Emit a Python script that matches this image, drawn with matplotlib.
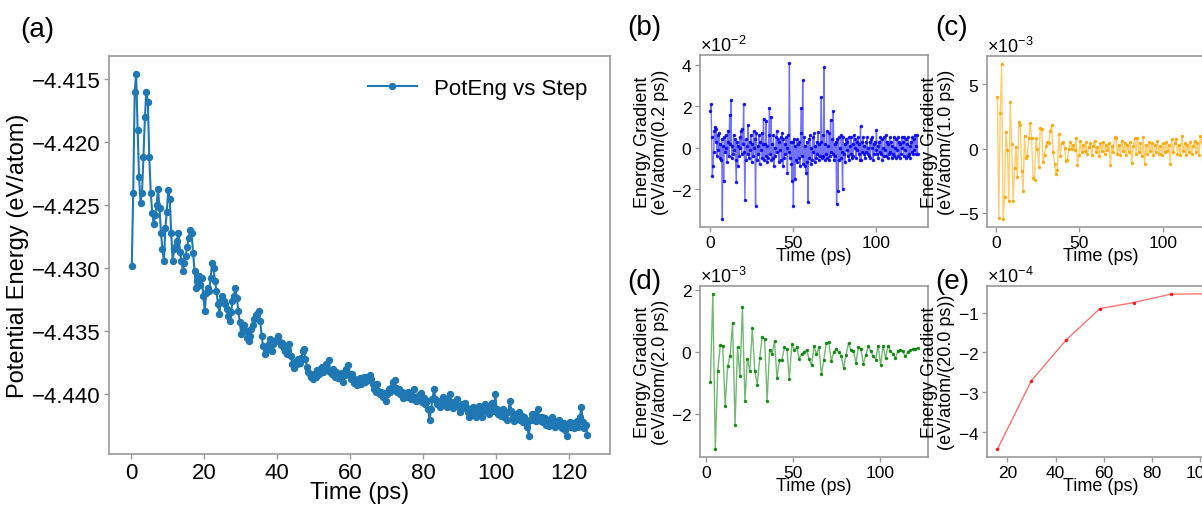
import numpy as np
import matplotlib
matplotlib.use("Agg")
import matplotlib.pyplot as plt
from matplotlib.ticker import MultipleLocator, ScalarFormatter

plt.rcParams['font.family'] = ['Liberation Sans', 'DejaVu Sans']
plt.rcParams['mathtext.fontset'] = 'custom'
plt.rcParams['mathtext.rm'] = 'Liberation Sans'
plt.rcParams['mathtext.it'] = 'Liberation Sans:italic'
plt.rcParams['mathtext.bf'] = 'Liberation Sans:bold'

# ---------------- data ----------------
# (a) potential energy, sampled every 0.4 ps from 0.2 ps to 125 ps
time_a = np.arange(0.2, 125.01, 0.4)
pot_energy = [
-4.4298, -4.4240, -4.4160, -4.4146, -4.4190, -4.4228, -4.4248, -4.4240, -4.4212, -4.4180,
-4.4160, -4.4168, -4.4212, -4.4240, -4.4256, -4.4265, -4.4258, -4.4250, -4.4237, -4.4252,
-4.4272, -4.4285, -4.4294, -4.4268, -4.4255, -4.4238, -4.4245, -4.4272, -4.4294, -4.4285,
-4.4282, -4.4278, -4.4272, -4.4287, -4.4294, -4.4302, -4.4296, -4.4290, -4.4283, -4.4276,
-4.4270, -4.4272, -4.4288, -4.4302, -4.4316, -4.4310, -4.4306, -4.4313, -4.4308, -4.4322,
-4.4334, -4.4320, -4.4316, -4.4318, -4.4308, -4.4296, -4.4300, -4.4310, -4.4318, -4.4328,
-4.4336, -4.4326, -4.4322, -4.4326, -4.4328, -4.4332, -4.4338, -4.4342, -4.4335, -4.4326,
-4.4322, -4.4316, -4.4324, -4.4334, -4.4343, -4.4352, -4.4346, -4.4345, -4.4350, -4.4355,
-4.4358, -4.4354, -4.4348, -4.4345, -4.4340, -4.4337, -4.4336, -4.4334, -4.4342, -4.4354,
-4.4362, -4.4368, -4.4366, -4.4362, -4.4360, -4.4356, -4.4366, -4.4360, -4.4358, -4.4357,
-4.4354, -4.4358, -4.4361, -4.4359, -4.4363, -4.4366, -4.4368, -4.4365, -4.4360, -4.4370,
-4.4376, -4.4379, -4.4374, -4.4376, -4.4372, -4.4375, -4.4371, -4.4366, -4.4364, -4.4372,
-4.4378, -4.4382, -4.4384, -4.4386, -4.4388, -4.4384, -4.4386, -4.4381, -4.4384, -4.4380,
-4.4378, -4.4382, -4.4379, -4.4376, -4.4380, -4.4373, -4.4382, -4.4384, -4.4380, -4.4386,
-4.4382, -4.4387, -4.4384, -4.4388, -4.4383, -4.4390, -4.4385, -4.4380, -4.4377, -4.4384,
-4.4388, -4.4384, -4.4391, -4.4388, -4.4393, -4.4390, -4.4387, -4.4392, -4.4389, -4.4386,
-4.4390, -4.4386, -4.4389, -4.4385, -4.4388, -4.4392, -4.4396, -4.4398, -4.4392, -4.4397,
-4.4400, -4.4398, -4.4402, -4.4399, -4.4405, -4.4400, -4.4396, -4.4398, -4.4394, -4.4390,
-4.4389, -4.4395, -4.4398, -4.4396, -4.4400, -4.4398, -4.4403, -4.4399, -4.4402, -4.4398,
-4.4400, -4.4404, -4.4401, -4.4396, -4.4402, -4.4405, -4.4401, -4.4404, -4.4399, -4.4406,
-4.4403, -4.4408, -4.4405, -4.4412, -4.4420, -4.4412, -4.4404, -4.4396, -4.4404, -4.4408,
-4.4405, -4.4410, -4.4406, -4.4402, -4.4408, -4.4404, -4.4410, -4.4407, -4.4400, -4.4406,
-4.4411, -4.4406, -4.4409, -4.4404, -4.4410, -4.4414, -4.4408, -4.4411, -4.4407, -4.4410,
-4.4414, -4.4418, -4.4412, -4.4416, -4.4410, -4.4415, -4.4418, -4.4413, -4.4409, -4.4414,
-4.4418, -4.4412, -4.4408, -4.4414, -4.4411, -4.4416, -4.4412, -4.4407, -4.4413, -4.4400,
-4.4412, -4.4416, -4.4413, -4.4417, -4.4412, -4.4418, -4.4415, -4.4420, -4.4414, -4.4405,
-4.4413, -4.4418, -4.4421, -4.4416, -4.4419, -4.4414, -4.4420, -4.4417, -4.4422, -4.4418,
-4.4421, -4.4426, -4.4433, -4.4420, -4.4416, -4.4420, -4.4416, -4.4421, -4.4412, -4.4418,
-4.4421, -4.4418, -4.4422, -4.4419, -4.4424, -4.4420, -4.4425, -4.4421, -4.4418, -4.4423,
-4.4426, -4.4421, -4.4424, -4.4420, -4.4425, -4.4427, -4.4423, -4.4428, -4.4433, -4.4426,
-4.4422, -4.4426, -4.4423, -4.4427, -4.4424, -4.4421, -4.4426, -4.4418, -4.4410, -4.4422,
-4.4427, -4.4424, -4.4432]

# (b) gradient over 0.2 ps, in units of 1e-2
time_b = np.arange(0.2, 125.01, 0.4)
grad_b = [
1.75, 2.1, 0.5, -1.35, -0.9, -0.2, 0.8, 1.0, 0.3, 0.9,
-0.4, 0.6, -0.1, 0.7, -0.5, 0.2, -0.6, 0.4, -3.45, 0.1,
-1.6, 0.5, -0.2, 0.6, 0.0, -0.7, 0.3, 0.8, -0.4, 1.6,
0.2, 2.3, -0.5, 0.1, -0.3, 0.6, -0.1, 0.4, -0.6, -1.65,
0.3, -0.9, 0.1, -0.4, 0.5, 0.0, 0.8, -0.3, 0.9, 0.2,
2.1, -0.2, -2.5, 0.4, -0.6, 0.1, -0.3, 1.1, -0.5, 0.3,
-0.1, 0.6, -0.7, 0.2, -0.4, 0.8, 0.0, 0.4, -2.8, 0.7,
-0.6, 0.1, -0.3, 0.6, -0.8, 0.3, -0.1, 0.7, -0.5, 0.2,
1.4, -0.6, 0.2, -0.4, 1.3, -0.7, 0.1, -0.5, 0.6, 1.9,
-0.3, 1.5, -0.6, 0.2, -0.5, 0.6, -0.9, 0.0, -0.4, 0.5,
0.8, -0.2, 0.4, -0.7, 0.3, -0.1, 0.5, -0.6, 0.7, -0.9,
0.4, -0.5, 0.2, -0.3, 0.5, 0.0, -1.2, 0.6, -0.2, 4.1,
-0.5, 0.3, -0.8, -1.6, 0.3, -2.8, 0.4, -1.5, 0.1, -0.6,
0.4, -0.7, 0.2, -0.5, 0.3, -0.9, 0.7, 1.9, -0.4, 3.25,
-0.8, 0.5, -0.9, 0.1, -1.2, 0.3, -0.7, -2.6, 0.4, -0.5,
0.6, -0.8, 0.0, -0.6, 0.5, -0.2, 0.7, -0.7, 0.1, -0.5,
0.3, -0.3, 0.75, -0.6, 0.2, -0.4, 0.3, 2.45, -0.5, 0.6,
-0.4, 3.9, -0.6, 0.2, -0.3, 0.8, -0.5, 0.1, -0.6, 0.7,
-0.4, 1.35, -0.2, 0.4, -0.3, 1.75, -0.6, 0.2, -0.4, 0.3,
-2.7, 0.4, -2.1, 0.5, -0.6, 0.0, -0.5, 0.6, -0.2, -2.0,
0.5, -0.3, 0.2, -0.7, 0.4, -0.1, 0.3, -0.4, 0.5, -0.6,
0.1, -0.3, 0.5, -0.5, 0.2, -0.4, 0.6, 0.0, 0.4, -0.5,
0.3, -0.1, 0.5, -0.3, 0.2, -0.6, 1.05, -0.6, 0.3, -0.2,
0.5, -0.3, 0.1, -0.5, 0.3, -0.2, 0.5, -0.3, 0.0, -0.4,
0.3, -0.5, 0.4, 0.0, 0.5, -0.6, 0.2, -0.3, 0.3, -0.1,
0.85, -0.3, 0.1, -0.5, 0.3, -0.2, 0.5, -0.3, 0.4, -0.6,
0.0, -0.4, 0.5, -0.1, 0.6, -0.4, 0.3, -0.5, 0.2, -0.3,
0.5, -0.2, 0.3, -0.5, 0.1, -0.3, 0.5, -0.4, 0.0, -0.5,
0.4, -0.1, 0.5, -0.4, 0.3, -0.5, 0.2, -0.3, 0.5, 0.0,
0.3, -0.4, 0.5, -0.1, 0.4, -0.5, 0.2, -0.4, 0.5, -0.3,
0.1, -0.5, 0.3, -0.2, 0.5, -0.3, 0.4, -0.1, 0.6, -0.3,
0.1, 0.6, -0.3]

# (c) gradient over 1.0 ps, in units of 1e-3
time_c = np.linspace(1.0, 125.0, 146)
grad_c = [
4.0, -5.4, 2.8, 6.6, -5.5, -3.8, 1.3, -0.1, -4.1, 3.6,
0.35, -4.1, -1.55, 0.15, -2.2, 2.1, 1.85, -1.75, -3.3, 1.0,
-0.7, -0.55, 0.8, 2.0, 0.8, -2.3, -2.45, 0.8, -0.05, -1.4,
1.6, 1.55, -1.05, -0.5, 0.2, 0.55, 0.4, 1.4, 1.8, -0.3,
-1.2, -2.0, -1.65, 1.15, -0.6, 0.4, 0.55, 0.05, -1.0, -0.9,
0.0, 0.55, 0.0, 0.3, -0.1, 0.85, -1.3, -0.5, 0.6, -0.3,
0.3, -0.2, 0.5, -0.4, 0.1, 0.4, -0.5, 0.2, 0.6, -0.3,
0.1, -0.6, 0.4, -0.2, 0.5, -0.4, 0.3, -0.1, 0.4, -1.3,
0.2, -0.3, 0.9, 0.85, -0.4, 0.3, -0.5, 0.6, -0.2, 0.4,
-0.5, 0.3, -0.3, 0.5, -1.15, 0.2, 0.8, -0.4, 0.8, -0.3,
0.4, -0.6, 0.9, -1.2, 0.3, -0.4, 0.5, -0.2, 0.4, -0.5,
0.3, -0.3, 0.6, -0.4, 0.2, -0.5, 0.4, -0.3, 0.5, -0.2,
0.3, -1.2, 0.75, -0.3, 0.4, 0.75, -0.4, 0.3, -0.5, 1.0,
-0.2, 0.4, -0.5, 0.3, -0.3, 0.5, -0.4, 0.2, 0.6, -0.3,
0.4, -0.5, 1.0, 0.55, -0.8, 0.2]

# (d) gradient over 2.0 ps, in units of 1e-3
time_d = np.linspace(2.3, 121.6, 85)
grad_d = [
-0.98, 1.87, -3.14, -0.61, 0.21, 0.19, -1.76, -0.47, -0.13, 0.94,
-2.37, 0.14, -0.79, 1.44, -1.59, -0.23, -0.61, 0.76, -0.62, -1.07,
-0.20, 0.48, 0.41, -1.57, 0.06, -0.07, 0.34, -0.84, -0.27, -0.27,
0.14, 0.09, -0.87, 0.24, 0.06, 0.14, -0.22, -0.08, 0.00, 0.06,
-0.24, -0.44, 0.18, -0.08, 0.14, -0.73, -0.25, 0.29, 0.31, -0.30,
-0.02, 0.09, -0.02, -0.12, -0.52, -0.10, 0.28, 0.06, 0.03, -0.35,
0.15, 0.10, -0.39, -0.10, 0.18, 0.03, -0.13, -0.25, 0.20, -0.44,
0.20, -0.20, 0.20, 0.03, -0.07, -0.20, 0.03, 0.06, 0.01, -0.15,
0.00, 0.05, 0.09, 0.08, 0.13]

# (e) gradient over 20.0 ps, in units of 1e-4
time_e = [15.9, 30.0, 44.4, 58.4, 72.5, 87.7, 101.8]
grad_e = [-4.43, -2.71, -1.69, -0.90, -0.75, -0.54, -0.53]

# ---------------- figure ----------------
W, H = 1202, 506
fig = plt.figure(figsize=(W / 100, H / 100), dpi=100)

def px_axes(left, top, right, bottom):
    return fig.add_axes([left / W, 1 - bottom / H, (right - left) / W, (bottom - top) / H])

SPINE = '#9a9a9a'

def style(ax, size, pad=2.5):
    for s in ax.spines.values():
        s.set_color(SPINE)
        s.set_linewidth(1.2)
    ax.tick_params(colors=SPINE, labelcolor='black', labelsize=size,
                   length=3.5, width=1.0, pad=pad)

# (a)
axa = px_axes(109, 57, 610, 455)
axa.plot(time_a, pot_energy, '-o', color='#1f77b4', lw=1.5, ms=4.3,
         label='PotEng vs Step')
style(axa, 16)
axa.yaxis.set_major_locator(MultipleLocator(0.005))
axa.yaxis.set_major_formatter(ScalarFormatter(useOffset=False))
axa.xaxis.set_major_locator(MultipleLocator(20))
axa.set_xlabel('Time (ps)', fontsize=17)
axa.set_ylabel('Potential Energy (eV/atom)', fontsize=17, labelpad=2)
axa.xaxis.set_label_coords(0.5, -0.068)
axa.legend(loc='upper right', frameon=False, fontsize=16, handlelength=2.2,
           borderaxespad=0.6)

small = [
    ((700, 56, 928, 228), time_b, grad_b, 1e-2, 'blue', '0.2', 0.02, 50),
    ((987, 57, 1215, 228), time_c, grad_c, 1e-3, 'orange', '1.0', 0.005, 50),
    ((700, 287, 928, 458), time_d, grad_d, 1e-3, 'green', '2.0', 0.002, 50),
    ((987, 287, 1215, 458), time_e, grad_e, 1e-4, 'red', '20.0', 1e-4, 20),
]
for (box, tx, gy, scale, col, dt, ystep, xstep) in small:
    ax = px_axes(*box)
    vals = np.asarray(gy) * scale
    ax.plot(tx, vals, '-', color=col, lw=1.0, alpha=0.55)
    ax.plot(tx, vals, '.', color=col, ms=3.0, alpha=0.8)
    style(ax, 12.5, pad=2)
    ax.yaxis.set_major_locator(MultipleLocator(ystep))
    ax.xaxis.set_major_locator(MultipleLocator(xstep))
    f = ScalarFormatter(useMathText=True)
    f.set_powerlimits((0, 0))
    ax.yaxis.set_major_formatter(f)
    ax.yaxis.get_offset_text().set_fontsize(13)
    ax.set_xlabel('Time (ps)', fontsize=13)
    ax.set_ylabel('Energy Gradient\n(eV/atom/(%s ps))' % dt, fontsize=13,
                  linespacing=1.05, labelpad=2)
    ax.xaxis.set_label_coords(0.5, -0.168)
    ax.xaxis.label.set_verticalalignment('center')

# panel letters
for txt, x, y in [('(a)', 20, 30), ('(b)', 627, 28), ('(c)', 935, 28),
                  ('(d)', 627, 282), ('(e)', 935, 282)]:
    fig.text(x / W, 1 - y / H, txt, fontsize=20, ha='left', va='center')

fig.savefig('out.png', dpi=100)
